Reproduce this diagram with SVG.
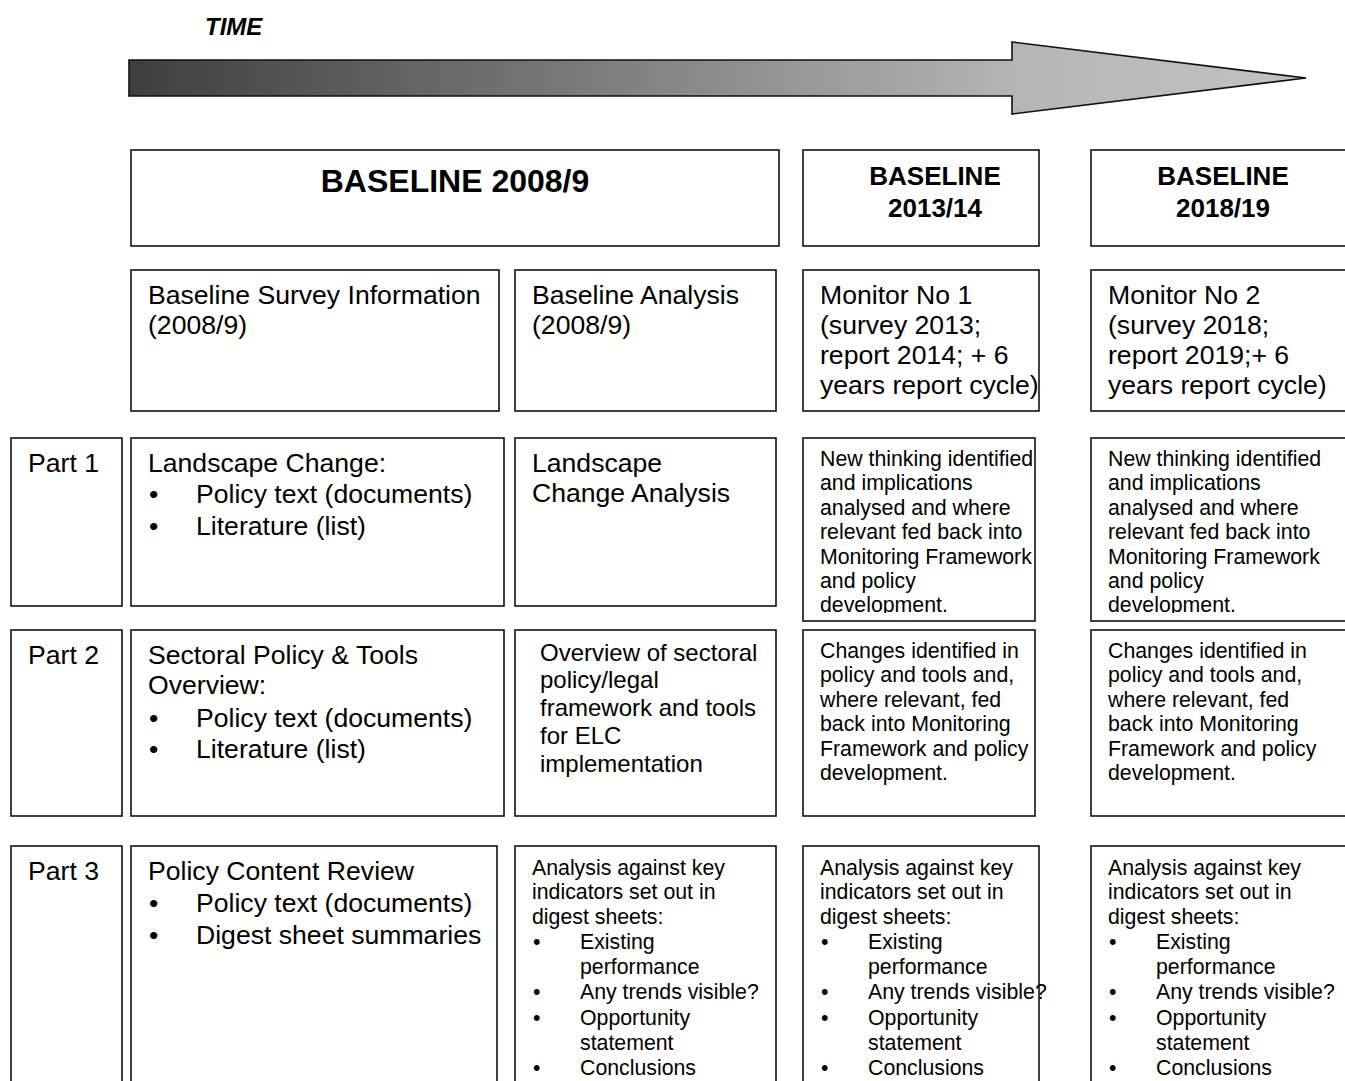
<svg xmlns="http://www.w3.org/2000/svg" width="1345" height="1081" viewBox="0 0 1345 1081">
<style>
.box{fill:#fff;stroke:#111;stroke-width:1.6}
text{font-family:"Liberation Sans",Arial,sans-serif;fill:#000}
.t26{font-size:26.6px}
.t24{font-size:24px}
.t21{font-size:21.3px}
.hb{font-size:26px;font-weight:bold;text-anchor:middle}
.hbig{font-size:32px;font-weight:bold;text-anchor:middle}
</style>
<defs>
<linearGradient id="grad" x1="129" y1="0" x2="1306" y2="0" gradientUnits="userSpaceOnUse">
<stop offset="0" stop-color="#3e3e3e"/>
<stop offset="0.45" stop-color="#858585"/>
<stop offset="0.76" stop-color="#b6b6b6"/>
<stop offset="1" stop-color="#c2c2c2"/>
</linearGradient>
<clipPath id="clipA"><rect x="803" y="438" width="240" height="175"/></clipPath>
<clipPath id="clipB"><rect x="1091" y="438" width="260" height="175"/></clipPath>
</defs>
<rect width="1345" height="1081" fill="#fff"/>

<g id="time-arrow">
<text x="205" y="35" style="font-size:24px;font-weight:bold;font-style:italic">TIME</text>
<polygon points="129,60 1012,60 1012,42 1306,78 1012,114 1012,96 129,96" fill="url(#grad)" stroke="#111" stroke-width="1.6"/>
</g>

<g id="hdr-2008">
<rect class="box" x="131" y="150" width="648" height="96"/>
<text class="hbig" x="455" y="192">BASELINE 2008/9</text>
</g>
<g id="hdr-2013">
<rect class="box" x="803" y="150" width="236" height="96"/>
<text class="hb" x="935" y="185">BASELINE</text>
<text class="hb" x="935" y="217">2013/14</text>
</g>
<g id="hdr-2018">
<rect class="box" x="1091" y="150" width="270" height="96"/>
<text class="hb" x="1223" y="185">BASELINE</text>
<text class="hb" x="1223" y="217">2018/19</text>
</g>

<g id="survey-info">
<rect class="box" x="131" y="270" width="368" height="141"/>
<text class="t26" x="148" y="304">Baseline Survey Information</text>
<text class="t26" x="148" y="334">(2008/9)</text>
</g>
<g id="baseline-analysis">
<rect class="box" x="515" y="270" width="261" height="141"/>
<text class="t26" x="532" y="304">Baseline Analysis</text>
<text class="t26" x="532" y="334">(2008/9)</text>
</g>
<g id="monitor-1">
<rect class="box" x="803" y="270" width="236" height="141"/>
<text class="t26" x="820" y="304">Monitor No 1</text>
<text class="t26" x="820" y="334">(survey 2013;</text>
<text class="t26" x="820" y="364">report 2014; + 6</text>
<text class="t26" x="820" y="394">years report cycle)</text>
</g>
<g id="monitor-2">
<rect class="box" x="1091" y="270" width="270" height="141"/>
<text class="t26" x="1108" y="304">Monitor No 2</text>
<text class="t26" x="1108" y="334">(survey 2018;</text>
<text class="t26" x="1108" y="364">report 2019;+ 6</text>
<text class="t26" x="1108" y="394">years report cycle)</text>
</g>

<g id="part-1">
<rect class="box" x="11" y="438" width="111" height="168"/>
<text class="t26" x="28" y="472">Part 1</text>
</g>
<g id="landscape-change">
<rect class="box" x="131" y="438" width="373" height="168"/>
<text class="t26" x="148" y="472">Landscape Change:</text>
<text class="t26" x="149" y="503">•</text>
<text class="t26" x="196" y="503">Policy text (documents)</text>
<text class="t26" x="149" y="535">•</text>
<text class="t26" x="196" y="535">Literature (list)</text>
</g>
<g id="landscape-analysis">
<rect class="box" x="515" y="438" width="261" height="168"/>
<text class="t26" x="532" y="472">Landscape</text>
<text class="t26" x="532" y="502">Change Analysis</text>
</g>
<g id="new-thinking-1">
<rect class="box" x="803" y="438" width="232" height="183"/>
<g clip-path="url(#clipA)">
<text class="t21" x="820" y="466">New thinking identified</text>
<text class="t21" x="820" y="490">and implications</text>
<text class="t21" x="820" y="515">analysed and where</text>
<text class="t21" x="820" y="539">relevant fed back into</text>
<text class="t21" x="820" y="564">Monitoring Framework</text>
<text class="t21" x="820" y="588">and policy</text>
<text class="t21" x="820" y="612">development.</text>
</g>
</g>
<g id="new-thinking-2">
<rect class="box" x="1091" y="438" width="270" height="183"/>
<g clip-path="url(#clipB)">
<text class="t21" x="1108" y="466">New thinking identified</text>
<text class="t21" x="1108" y="490">and implications</text>
<text class="t21" x="1108" y="515">analysed and where</text>
<text class="t21" x="1108" y="539">relevant fed back into</text>
<text class="t21" x="1108" y="564">Monitoring Framework</text>
<text class="t21" x="1108" y="588">and policy</text>
<text class="t21" x="1108" y="612">development.</text>
</g>
</g>

<g id="part-2">
<rect class="box" x="11" y="630" width="111" height="186"/>
<text class="t26" x="28" y="664">Part 2</text>
</g>
<g id="sectoral-policy">
<rect class="box" x="131" y="630" width="373" height="186"/>
<text class="t26" x="148" y="664">Sectoral Policy &amp; Tools</text>
<text class="t26" x="148" y="694">Overview:</text>
<text class="t26" x="149" y="727">•</text>
<text class="t26" x="196" y="727">Policy text (documents)</text>
<text class="t26" x="149" y="758">•</text>
<text class="t26" x="196" y="758">Literature (list)</text>
</g>
<g id="sectoral-overview">
<rect class="box" x="515" y="630" width="261" height="186"/>
<text class="t24" x="540" y="661">Overview of sectoral</text>
<text class="t24" x="540" y="688">policy/legal</text>
<text class="t24" x="540" y="716">framework and tools</text>
<text class="t24" x="540" y="744">for ELC</text>
<text class="t24" x="540" y="772">implementation</text>
</g>
<g id="changes-1">
<rect class="box" x="803" y="630" width="232" height="186"/>
<text class="t21" x="820" y="658">Changes identified in</text>
<text class="t21" x="820" y="682">policy and tools and,</text>
<text class="t21" x="820" y="707">where relevant, fed</text>
<text class="t21" x="820" y="731">back into Monitoring</text>
<text class="t21" x="820" y="756">Framework and policy</text>
<text class="t21" x="820" y="780">development.</text>
</g>
<g id="changes-2">
<rect class="box" x="1091" y="630" width="270" height="186"/>
<text class="t21" x="1108" y="658">Changes identified in</text>
<text class="t21" x="1108" y="682">policy and tools and,</text>
<text class="t21" x="1108" y="707">where relevant, fed</text>
<text class="t21" x="1108" y="731">back into Monitoring</text>
<text class="t21" x="1108" y="756">Framework and policy</text>
<text class="t21" x="1108" y="780">development.</text>
</g>

<g id="part-3">
<rect class="box" x="11" y="846" width="111" height="250"/>
<text class="t26" x="28" y="880">Part 3</text>
</g>
<g id="policy-content-review">
<rect class="box" x="131" y="846" width="366" height="250"/>
<text class="t26" x="148" y="880">Policy Content Review</text>
<text class="t26" x="149" y="912">•</text>
<text class="t26" x="196" y="912">Policy text (documents)</text>
<text class="t26" x="149" y="944">•</text>
<text class="t26" x="196" y="944">Digest sheet summaries</text>
</g>
<g id="analysis-baseline">
<rect class="box" x="515" y="846" width="261" height="250"/>
<text class="t21" x="532" y="875">Analysis against key</text>
<text class="t21" x="532" y="899">indicators set out in</text>
<text class="t21" x="532" y="924">digest sheets:</text>
<text class="t21" x="533" y="949">•</text><text class="t21" x="580" y="949">Existing</text>
<text class="t21" x="580" y="974">performance</text>
<text class="t21" x="533" y="999">•</text><text class="t21" x="580" y="999">Any trends visible?</text>
<text class="t21" x="533" y="1025">•</text><text class="t21" x="580" y="1025">Opportunity</text>
<text class="t21" x="580" y="1050">statement</text>
<text class="t21" x="533" y="1075">•</text><text class="t21" x="580" y="1075">Conclusions</text>
</g>
<g id="analysis-monitor-1">
<rect class="box" x="803" y="846" width="236" height="250"/>
<text class="t21" x="820" y="875">Analysis against key</text>
<text class="t21" x="820" y="899">indicators set out in</text>
<text class="t21" x="820" y="924">digest sheets:</text>
<text class="t21" x="821" y="949">•</text><text class="t21" x="868" y="949">Existing</text>
<text class="t21" x="868" y="974">performance</text>
<text class="t21" x="821" y="999">•</text><text class="t21" x="868" y="999">Any trends visible?</text>
<text class="t21" x="821" y="1025">•</text><text class="t21" x="868" y="1025">Opportunity</text>
<text class="t21" x="868" y="1050">statement</text>
<text class="t21" x="821" y="1075">•</text><text class="t21" x="868" y="1075">Conclusions</text>
</g>
<g id="analysis-monitor-2">
<rect class="box" x="1091" y="846" width="270" height="250"/>
<text class="t21" x="1108" y="875">Analysis against key</text>
<text class="t21" x="1108" y="899">indicators set out in</text>
<text class="t21" x="1108" y="924">digest sheets:</text>
<text class="t21" x="1109" y="949">•</text><text class="t21" x="1156" y="949">Existing</text>
<text class="t21" x="1156" y="974">performance</text>
<text class="t21" x="1109" y="999">•</text><text class="t21" x="1156" y="999">Any trends visible?</text>
<text class="t21" x="1109" y="1025">•</text><text class="t21" x="1156" y="1025">Opportunity</text>
<text class="t21" x="1156" y="1050">statement</text>
<text class="t21" x="1109" y="1075">•</text><text class="t21" x="1156" y="1075">Conclusions</text>
</g>
<g id="connectors"></g>
</svg>
